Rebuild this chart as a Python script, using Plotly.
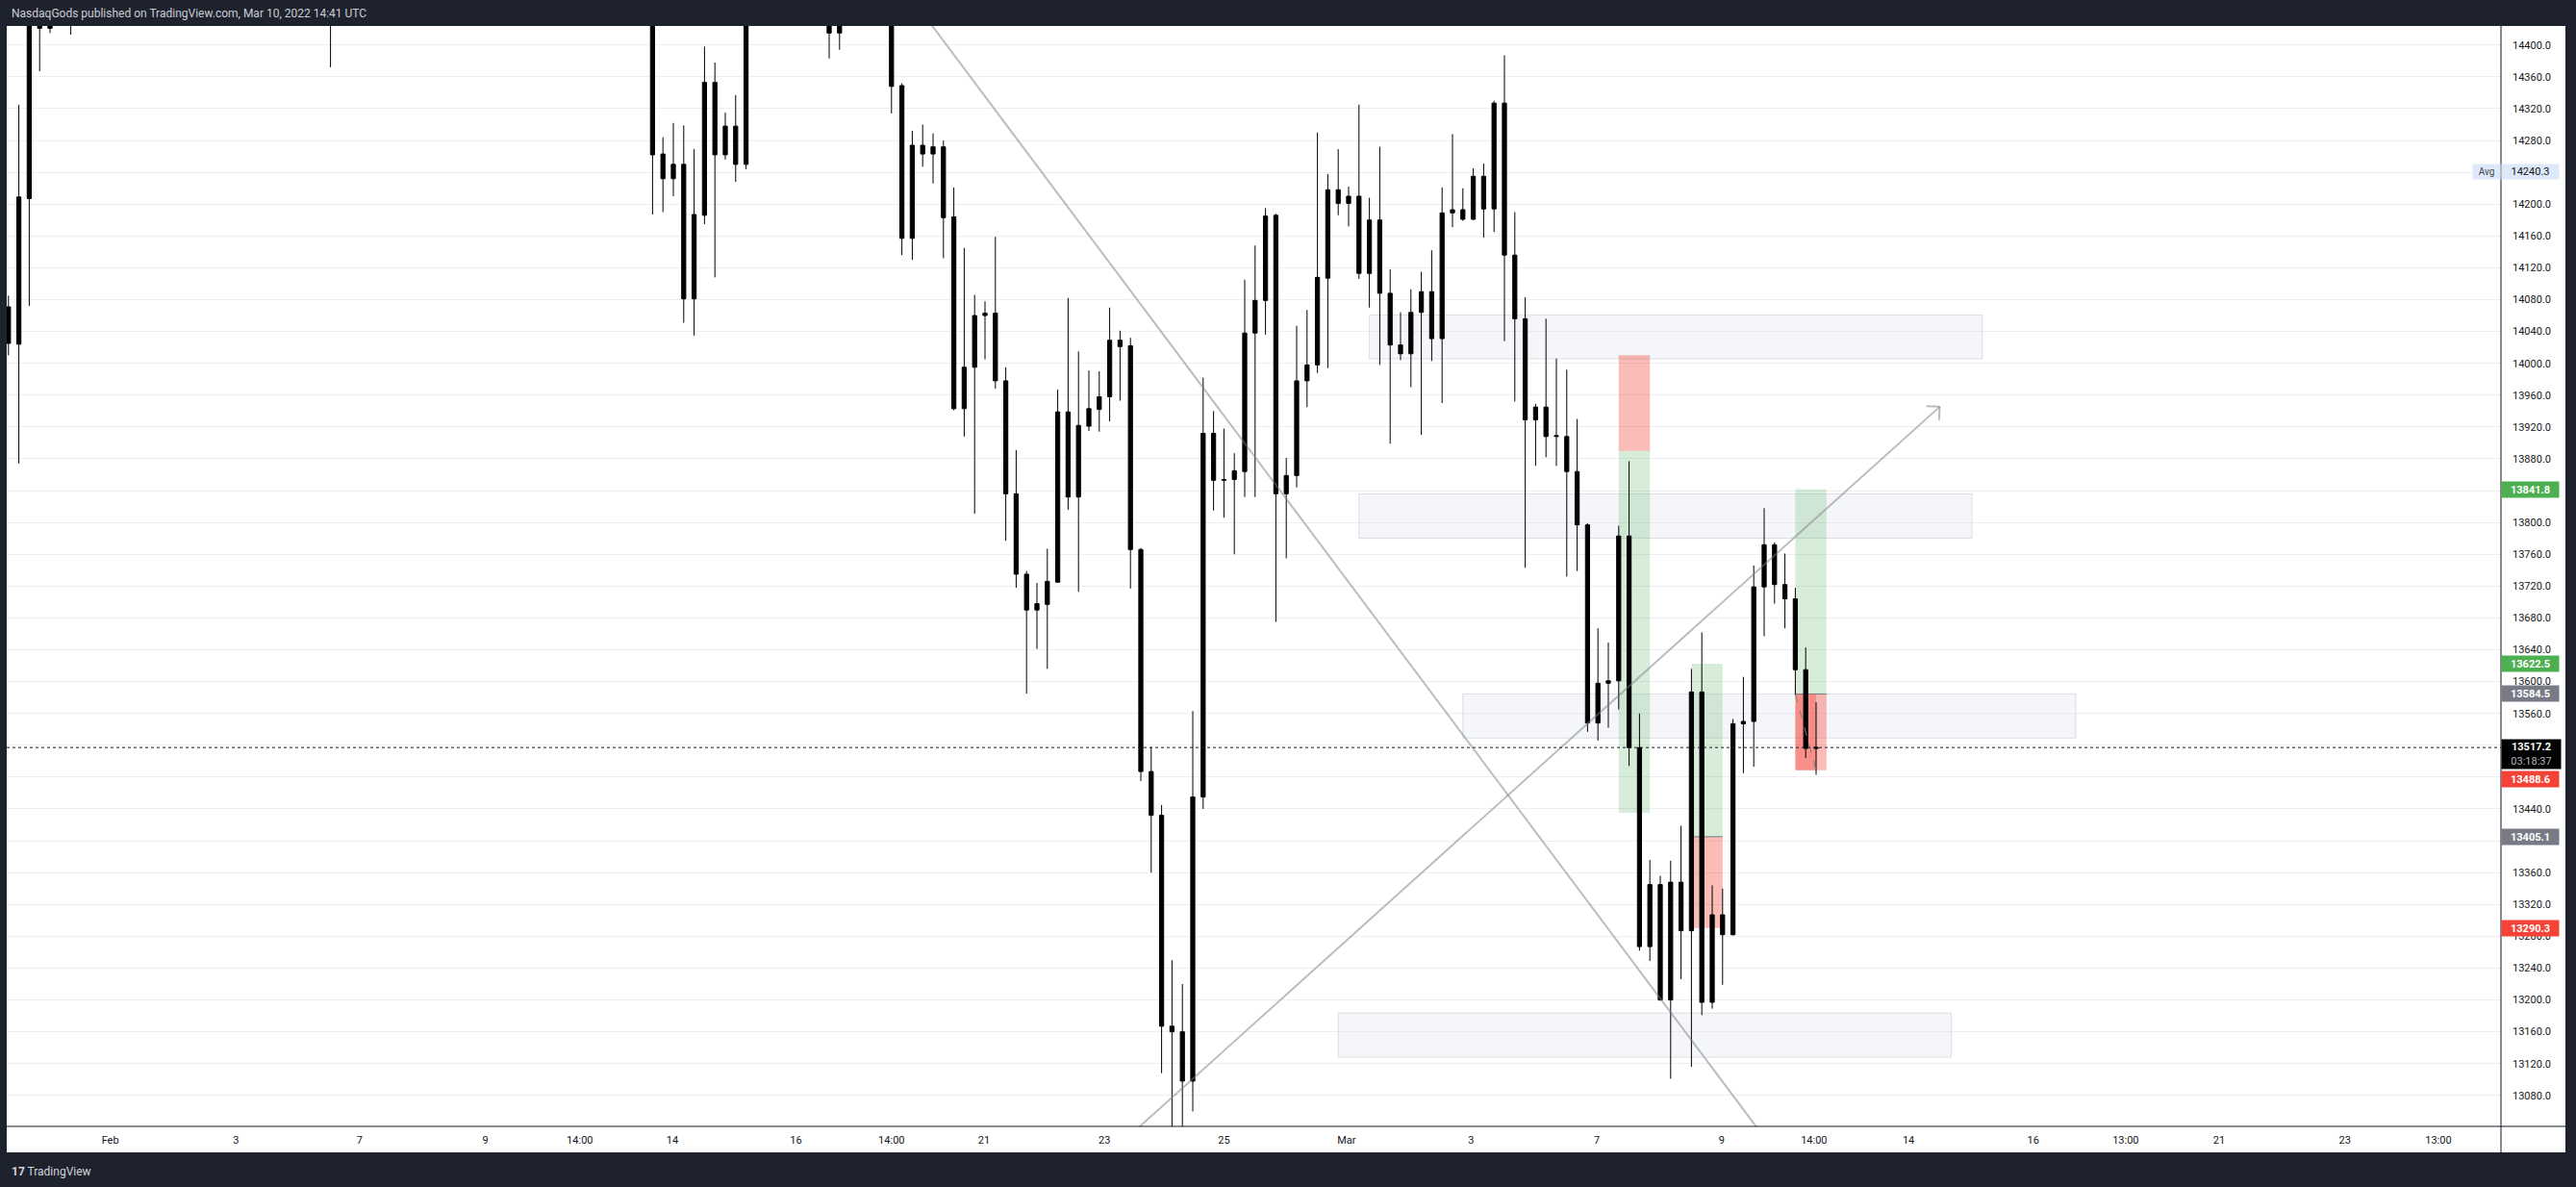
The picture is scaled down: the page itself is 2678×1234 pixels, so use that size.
import math

import plotly.graph_objects as go

# ---- candles (x = bar number, 4h bars) ----
bar_idx = [-1, 0, 1, 2, 3, 5, 30,
           61, 62, 63, 64, 65, 66, 67, 68, 69, 70, 78, 79, 84,
           85, 86, 87, 88, 89, 90, 91, 92, 93, 94, 95, 96, 97, 98, 99,
           100, 101, 102, 103, 104, 105, 106, 107, 108, 109, 110, 111, 112, 113, 114,
           115, 116, 117, 118, 119, 120, 121, 122, 123, 124, 125, 126, 127, 128, 129,
           130, 131, 132, 133, 134, 135, 136, 137, 138, 139, 140, 141, 142, 143, 144,
           145, 146, 147, 148, 149, 150, 151, 152, 153, 154, 155, 156, 157, 158, 159,
           160, 161, 162, 163, 164, 165, 166, 167, 168, 169, 170, 171, 172, 173]
opens = [14071, 14024, 14207, 14466, 14421, 14455, 14490,
         14460, 14263, 14232, 14250, 14081, 14186, 14353, 14262, 14298, 14250, 14460, 14415, 14470,
         14349, 14157, 14274, 14263, 14272, 14184, 13943, 13995, 14060, 14063, 13978, 13836, 13735, 13690, 13697,
         13725, 13939, 13832, 13921, 13942, 13958, 14029, 14022, 13766, 13487, 13432, 13167, 13160, 13098, 13455,
         13912, 13853, 13854, 13864, 14038, 14079, 14186, 13836, 13859, 13978, 13998, 14107, 14218, 14201, 14210,
         14113, 14180, 14088, 14023, 14012, 14064, 14090, 14031, 14189, 14193, 14181, 14235, 14194, 14327, 14136,
         14056, 13929, 13945, 13908, 13908, 13864, 13797, 13548, 13598, 13601, 13783, 13517, 13267, 13345, 13200,
         13348, 13287, 13587, 13197, 13307, 13282, 13547, 13550, 13719, 13772, 13722, 13704, 13615, 13516]
highs = [14085, 14325, 14480, 14495, 14470, 14490, 14530,
         14470, 14284, 14302, 14299, 14269, 14398, 14378, 14315, 14337, 14470, 14490, 14480, 14490,
         14352, 14292, 14300, 14289, 14280, 14221, 14145, 14086, 14078, 14159, 13995, 13891, 13739, 13724, 13767,
         13967, 14082, 14015, 13991, 13990, 14070, 14041, 14032, 13768, 13518, 13445, 13250, 13220, 13563, 13982,
         13940, 13918, 13887, 14105, 14148, 14195, 14188, 13881, 14047, 14067, 14290, 14238, 14269, 14222, 14325,
         14208, 14272, 14118, 14064, 14093, 14115, 14142, 14221, 14288, 14220, 14245, 14251, 14330, 14387, 14190,
         14083, 13949, 14056, 14006, 13992, 13930, 13799, 13667, 13649, 13796, 13877, 13560, 13376, 13356, 13375,
         13419, 13616, 13662, 13344, 13340, 13553, 13606, 13746, 13818, 13775, 13761, 13718, 13643, 13574]
lows = [14010, 13874, 14072, 14367, 14415, 14413, 14372,
        14187, 14190, 14210, 14051, 14035, 14175, 14108, 14256, 14228, 14244, 14383, 14394, 14314,
        14136, 14130, 14247, 14226, 14132, 13941, 13908, 13811, 14005, 13968, 13777, 13718, 13585, 13641, 13616,
        13724, 13816, 13713, 13915, 13914, 13927, 13953, 13717, 13475, 13360, 13108, 13030, 13035, 13060, 13440,
        13815, 13806, 13760, 13832, 13832, 14036, 13675, 13755, 13844, 13945, 13988, 13994, 14186, 14172, 14106,
        14070, 13998, 13899, 14004, 13970, 13910, 14003, 13950, 14171, 14179, 14180, 14158, 14165, 14028, 13952,
        13743, 13871, 13882, 13871, 13732, 13739, 13537, 13526, 13542, 13565, 13494, 13262, 13249, 13199, 13101,
        13226, 13116, 13181, 13189, 13219, 13281, 13485, 13493, 13657, 13698, 13667, 13583, 13504, 13483]
closes = [14025, 14209, 14465, 14421, 14450, 14470, 14460,
          14262, 14232, 14250, 14081, 14187, 14353, 14262, 14298, 14250, 14450, 14415, 14450, 14348,
          14157, 14274, 14263, 14272, 14183, 13943, 13995, 14060, 14063, 13978, 13836, 13735, 13690, 13698, 13726,
          13939, 13832, 13922, 13943, 13958, 14029, 14021, 13766, 13487, 13432, 13167, 13160, 13098, 13455, 13912,
          13853, 13854, 13865, 14038, 14079, 14185, 13836, 13859, 13978, 13998, 14108, 14218, 14201, 14210, 14113,
          14180, 14088, 14023, 14012, 14064, 14090, 14031, 14189, 14193, 14181, 14235, 14194, 14327, 14136, 14056,
          13929, 13945, 13908, 13909, 13864, 13797, 13548, 13598, 13601, 13783, 13517, 13267, 13345, 13200, 13348,
          13287, 13587, 13197, 13307, 13282, 13547, 13550, 13719, 13772, 13722, 13704, 13615, 13516, 13517.2]

# time axis labels (bar positions) and price axis ticks
time_tick_pos = [8.8, 20.9, 32.8, 44.9, 54.0, 62.9, 74.8, 84.0, 92.9, 104.5, 116.0,
                 127.8, 139.8, 151.9, 163.9, 172.8, 181.9, 193.9, 202.8, 211.8, 223.9, 232.9]
time_tick_text = ["Feb", "3", "7", "9", "14:00", "14", "16", "14:00", "21", "23", "25",
                  "Mar", "3", "7", "9", "14:00", "14", "16", "13:00", "21", "23", "13:00"]
price_ticks = list(range(13080, 14401, 40))

# drawings: supply/demand zones (bar from, bar to, price low, price high)
zones = [(130, 189, 14005.6, 14060.6),
         (129, 188, 13780.3, 13835.9),
         (139, 198, 13529.1, 13584.6),
         (127, 186, 13128.0, 13183.6)]
# position tools (bar from, bar to, target, entry, stop)
positions = [(154, 157, 13435.3, 13890.0, 14010.3),
             (161, 164, 13622.5, 13405.1, 13290.3),
             (171, 174, 13841.8, 13584.5, 13488.6)]
# trend lines: (bar, price) anchors
down_line = [(80.0, 14562.2), (172.0, 12957.7)]
up_arrow = [(104.0, 12995.2), (184.9, 13945.4)]

last_price = 13517.2
countdown = "03:18:37"
avg_price = 14240.3
# price, colour, vertical nudge in px (the scale pushes clashing tags apart)
axis_tags = [(13841.8, "#4caf50", 0), (13622.5, "#4caf50", 0), (13584.5, "#787b86", 0),
             (13488.6, "#f44336", -9), (13405.1, "#787b86", 0), (13290.3, "#f44336", 0)]

# ---- geometry of the screenshot ----
W, H = 2678, 1234
PL, PR, PT, PB = 7, 2600, 27, 1171
X0, BAR = 19.6, 10.8
Y_TOP, Y_BOT = 14423.9, 13041.1
PX_PER_PT = (PB - PT) / (Y_TOP - Y_BOT)
DARK = "#1e222d"
INK = "#131722"
FONT = "Roboto, Liberation Sans, sans-serif"


def paper_x(px):
    return (px - PL) / (PR - PL)


def paper_y(py):
    return (PB - py) / (PB - PT)


fig = go.Figure(
    go.Candlestick(
        x=bar_idx, open=opens, high=highs, low=lows, close=closes,
        increasing=dict(line=dict(color="#000000", width=1), fillcolor="#000000"),
        decreasing=dict(line=dict(color="#000000", width=1), fillcolor="#000000"),
        whiskerwidth=0, hoverinfo="skip",
    )
)

shapes = []
for x0, x1, p0, p1 in zones:
    shapes.append(dict(type="rect", xref="x", yref="y", x0=x0, x1=x1, y0=p0, y1=p1,
                       fillcolor="rgba(225,227,235,0.32)",
                       line=dict(color="rgba(200,203,212,0.6)", width=1), layer="between"))

for i, (x0, x1, target, entry, stop) in enumerate(positions):
    shapes.append(dict(type="rect", xref="x", yref="y", x0=x0, x1=x1, y0=entry, y1=target,
                       fillcolor="rgba(76,175,80,0.22)", line=dict(width=0), layer="between"))
    shapes.append(dict(type="rect", xref="x", yref="y", x0=x0, x1=x1, y0=entry, y1=stop,
                       fillcolor="rgba(244,67,54,0.36)", line=dict(width=0), layer="between"))
    if i > 0:
        shapes.append(dict(type="line", xref="x", yref="y", x0=x0, x1=x1, y0=entry, y1=entry,
                           line=dict(color="#787b86", width=1), layer="between"))

# closed part of the last trade
x0, x1, target, entry, stop = positions[2]
shapes.append(dict(type="rect", xref="x", yref="y", x0=x0, x1=bar_idx[-1], y0=stop, y1=entry,
                   fillcolor="rgba(244,67,54,0.35)", line=dict(width=0), layer="between"))
shapes.append(dict(type="line", xref="x", yref="y", x0=x0, x1=bar_idx[-1], y0=entry, y1=stop,
                   line=dict(color="#787b86", width=1, dash="dash"), layer="above"))

line_style = dict(color="rgba(120,123,134,0.5)", width=2)
shapes.append(dict(type="line", xref="x", yref="y", x0=down_line[0][0], y0=down_line[0][1],
                   x1=down_line[1][0], y1=down_line[1][1], line=line_style, layer="above"))
shapes.append(dict(type="line", xref="x", yref="y", x0=up_arrow[0][0], y0=up_arrow[0][1],
                   x1=up_arrow[1][0], y1=up_arrow[1][1], line=line_style, layer="above"))

# open arrow head, built in pixel space
hx, hp = up_arrow[1]
dx_px = (up_arrow[0][0] - hx) * BAR
dy_px = -(up_arrow[0][1] - hp) * PX_PER_PT
ang = math.atan2(dy_px, dx_px)
for turn in (math.radians(45), -math.radians(45)):
    lx = 14 * math.cos(ang + turn)
    ly = 14 * math.sin(ang + turn)
    shapes.append(dict(type="line", xref="x", yref="y", x0=hx, y0=hp,
                       x1=hx + lx / BAR, y1=hp - ly / PX_PER_PT, line=line_style, layer="above"))

# last price dotted line
shapes.append(dict(type="line", xref="paper", yref="y", x0=0, x1=1, y0=last_price, y1=last_price,
                   line=dict(color=INK, width=1, dash="dot"), layer="above"))

# frame: dark borders and axis lines
for a, b, c, d in [(0, W, 0, PT), (0, W, 1198, H), (0, PL, 0, H), (2667, W, 0, H)]:
    shapes.append(dict(type="rect", xref="paper", yref="paper",
                       x0=paper_x(a), x1=paper_x(b), y0=paper_y(d), y1=paper_y(c),
                       fillcolor=DARK, line=dict(width=0), layer="above"))
shapes.append(dict(type="line", xref="paper", yref="paper", x0=paper_x(PR), x1=paper_x(PR),
                   y0=paper_y(1198), y1=paper_y(PT), line=dict(color=INK, width=1)))
shapes.append(dict(type="line", xref="paper", yref="paper", x0=paper_x(PL), x1=paper_x(2667),
                   y0=paper_y(PB), y1=paper_y(PB), line=dict(color=INK, width=1)))

annotations = [
    dict(text="NasdaqGods published on TradingView.com, Mar 10, 2022 14:41 UTC",
         x=paper_x(10), y=paper_y(14), xref="paper", yref="paper", xanchor="left", yanchor="middle",
         showarrow=False, font=dict(family=FONT, size=12, color="#c9ccd4")),
    dict(text="<b>17</b> TradingView", x=paper_x(10), y=paper_y(1218), xref="paper", yref="paper",
         xanchor="left", yanchor="middle", showarrow=False,
         font=dict(family=FONT, size=12, color="#d1d4dc")),
    dict(text="Avg", x=1.0, y=avg_price, xref="paper", yref="y", xanchor="right", yanchor="middle",
         showarrow=False, bgcolor="#dde9f8", width=26, height=13, borderpad=1,
         font=dict(family=FONT, size=10, color="#434651")),
    dict(text=f"{avg_price:.1f}", x=1.0, y=avg_price, xref="paper", yref="y", xanchor="left",
         yanchor="middle", showarrow=False, bgcolor="#dde9f8", width=57, height=13, borderpad=1,
         font=dict(family=FONT, size=11, color=INK)),
]
for price, color, nudge in axis_tags:
    annotations.append(dict(text=f"<b>{price:.1f}</b>", x=1.0, y=price, xref="paper", yref="y",
                            xanchor="left", yanchor="middle", yshift=nudge, showarrow=False,
                            bgcolor=color, width=57, height=14, borderpad=1,
                            font=dict(family=FONT, size=11, color="#ffffff")))
# last price tag with bar countdown, drawn on top
annotations.append(dict(text=f"<b>{last_price:.1f}</b><br><span style='color:#b2b5be'>{countdown}</span>",
                        x=1.0, y=last_price, xref="paper", yref="y", xanchor="left", yanchor="middle",
                        yshift=-7, showarrow=False, bgcolor="#000000", width=59, height=28, borderpad=1,
                        font=dict(family=FONT, size=11, color="#ffffff")))

fig.update_layout(
    width=W, height=H,
    margin=dict(l=PL, r=W - PR, t=PT, b=H - PB, pad=0),
    paper_bgcolor="#ffffff", plot_bgcolor="#ffffff",
    showlegend=False, boxgap=0.44,
    shapes=shapes, annotations=annotations,
    xaxis=dict(range=[(PL - X0) / BAR, (PR - X0) / BAR], rangeslider=dict(visible=False),
               showgrid=False, zeroline=False, showline=False, ticks="",
               tickvals=time_tick_pos, ticktext=time_tick_text, ticklabelstandoff=6,
               tickfont=dict(family=FONT, size=11, color=INK)),
    yaxis=dict(range=[Y_BOT, Y_TOP], side="right", showgrid=True, gridcolor="#eceef1",
               gridwidth=1, zeroline=False, showline=False, ticks="",
               tickvals=price_ticks, ticktext=[f"{v:.1f}" for v in price_ticks],
               ticklabelstandoff=11, tickfont=dict(family=FONT, size=11, color=INK)),
    hovermode=False,
)

# page margin off so the figure sits at the window corner; no modebar
fig.write_html("out.html", config={"displayModeBar": False},
               post_script="document.body.style.margin='0';")
